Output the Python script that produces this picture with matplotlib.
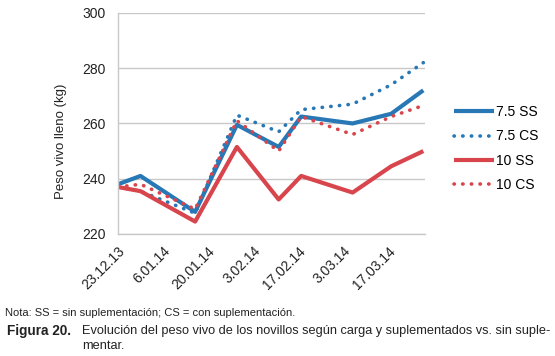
import pandas as pd
import matplotlib
matplotlib.use("Agg")
import matplotlib.pyplot as plt

# fechas de pesada y pesos (kg)
fechas = ["23.12.13", "30.12.13", "16.01.14", "29.01.14", "11.02.14",
          "18.02.14", "06.03.14", "18.03.14", "28.03.14"]
ss_75 = [238, 241, 228, 259.5, 251.5, 262.5, 260, 263.5, 272]
cs_75 = [237, 235.5, 227.5, 263, 257, 265, 267, 274, 282]
ss_10 = [237, 235.5, 224.5, 251.5, 232.5, 241, 235, 244.5, 250]
cs_10 = [237, 238, 229, 261, 250, 262.5, 256, 262.5, 266.5]
tick_labels = ["23.12.13", "6.01.14", "20.01.14", "3.02.14",
               "17.02.14", "3.03.14", "17.03.14"]

plt.rcParams['font.family'] = ['Liberation Sans', 'DejaVu Sans']

x = pd.to_datetime(fechas, format="%d.%m.%y")
xt = pd.to_datetime(tick_labels, format="%d.%m.%y")

azul = '#2878b6'
rojo = '#d8454c'

fig = plt.figure(figsize=(5.55, 3.56), dpi=100)
ax = fig.add_axes([0.2126, 0.3427, 0.553, 0.621])

ax.plot(x, ss_75, color=azul, lw=3, label='7.5 SS', solid_capstyle='butt')
ax.plot(x, cs_75, color=azul, lw=2.6, dashes=(0.1, 2.3),
        dash_capstyle='round', label='7.5 CS')
ax.plot(x, ss_10, color=rojo, lw=3, label='10 SS', solid_capstyle='butt')
ax.plot(x, cs_10, color=rojo, lw=2.6, dashes=(0.1, 2.3),
        dash_capstyle='round', label='10 CS')

ax.set_ylim(220, 300)
ax.set_yticks([220, 240, 260, 280, 300])
ax.set_xlim(x[0], x[-1] + pd.Timedelta(hours=12))
ax.set_xticks(xt)
ax.set_xticklabels(tick_labels, rotation=45, ha='right', rotation_mode='anchor')
ax.tick_params(axis='both', length=0, labelsize=10, colors='#222222')
ax.tick_params(axis='y', pad=9)
ax.tick_params(axis='x', pad=7)
ax.grid(axis='y', color='#c8c8c8', lw=1)
ax.set_axisbelow(True)
for s in ('top', 'right'):
    ax.spines[s].set_visible(False)
for s in ('left', 'bottom'):
    ax.spines[s].set_color('#c8c8c8')
    ax.spines[s].set_linewidth(1)
ax.set_ylabel('Peso vivo lleno (kg)', fontsize=9.5, color='#222222')
ax.yaxis.set_label_coords(-0.165, 0.42)

leg = fig.legend(loc='upper left', bbox_to_anchor=(0.818, 0.705), frameon=False,
                 fontsize=10, handlelength=2.9, handletextpad=0.15,
                 labelspacing=0.75, borderpad=0, borderaxespad=0)

fig.text(0.009, 0.122, 'Nota: SS = sin suplementación; CS = con suplementación.',
         fontsize=8, color='#222222', va='center')
fig.text(0.012, 0.07, 'Figura 20.', fontsize=9.8, fontweight='bold',
         color='#222222', va='center')
fig.text(0.148, 0.07,
         'Evolución del peso vivo de los novillos según carga y suplementados vs. sin suple-',
         fontsize=9.2, color='#222222', va='center')
fig.text(0.148, 0.028, 'mentar.', fontsize=9.2, color='#222222', va='center')

fig.savefig('out.png', dpi=100)
